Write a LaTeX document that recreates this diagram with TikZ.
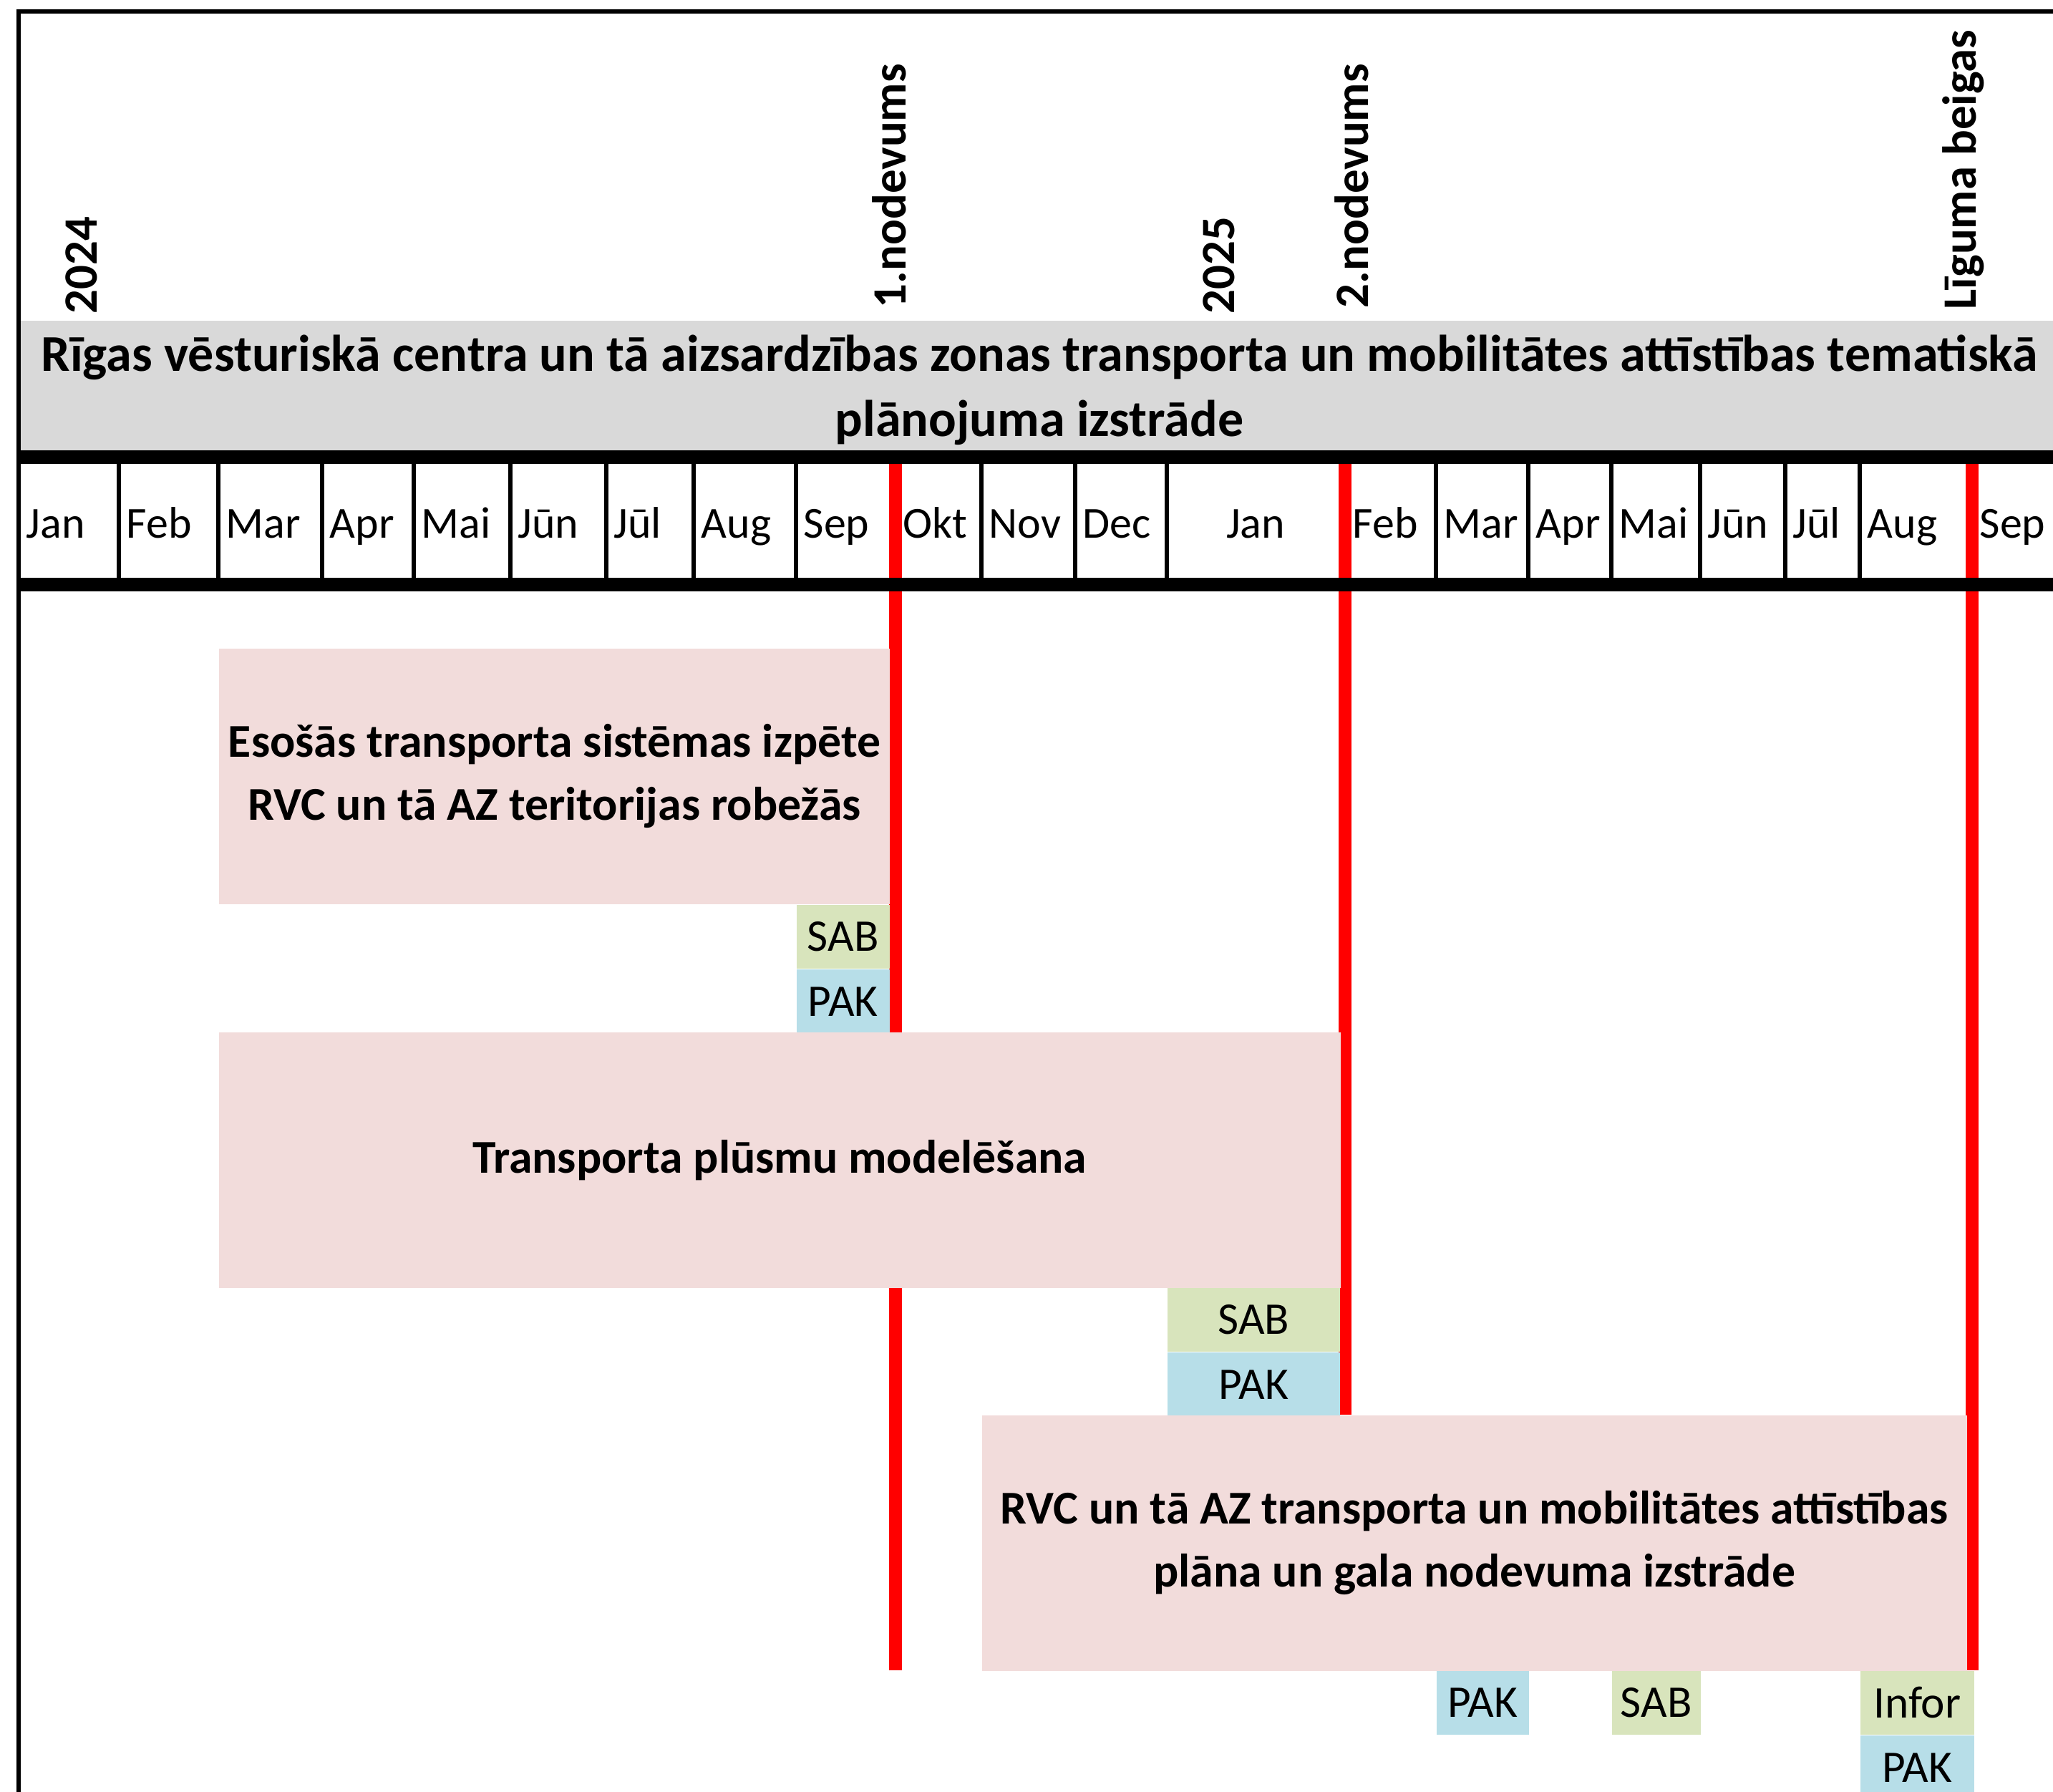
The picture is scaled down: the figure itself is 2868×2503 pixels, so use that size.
\documentclass[tikz,border=0pt]{standalone}
\usepackage{fontspec}
\setmainfont{Carlito}
\usetikzlibrary{positioning}
\definecolor{bandgray}{HTML}{D9D9D9}
\definecolor{taskpink}{HTML}{F2DCDB}
\definecolor{sabgreen}{HTML}{D8E4BC}
\definecolor{pakblue}{HTML}{B7DEE8}
\definecolor{msred}{HTML}{FF0000}
\tikzstyle{taskbox} = [fill=taskpink, anchor=north west, inner sep=0pt,
    align=center, minimum height=3.57cm, font=\fontsize{18.7}{25}\selectfont\bfseries]
\tikzstyle{sabbox} = [fill=sabgreen, anchor=north west, inner sep=0pt,
    minimum height=0.89cm, font=\fontsize{18}{22}\selectfont]
\tikzstyle{pakbox} = [sabbox, fill=pakblue]
\tikzstyle{monthlabel} = [anchor=base west, inner sep=0pt, font=\fontsize{17.6}{22}\selectfont]
\tikzstyle{milestonelabel} = [rotate=90, anchor=base west, inner sep=0pt,
    font=\fontsize{19}{23}\selectfont\bfseries]
\tikzstyle{milestone} = [draw=msred, line width=0.175cm]
\tikzstyle{gridline} = [draw=black, line width=0.06cm]
\tikzstyle{thickline} = [draw=black, line width=0.19cm]

\begin{document}
\begin{tikzpicture}[x=0.01cm, y=-0.01cm]
    \useasboundingbox (0,0) rectangle (2868,2503);
    % title band
    \fill[bandgray] (26,448) rectangle (2868,629);
    \node[font=\fontsize{20.5}{26}\selectfont\bfseries, align=center] (title) at (1452,545)
        {Rīgas vēsturiskā centra un tā aizsardzības zonas transporta un mobilitātes attīstības tematiskā\\
         plānojuma izstrāde};

    % milestones
    \coordinate (ms1top) at (1251,648);
    \coordinate (ms1end) at (1251,2333);
    \coordinate (ms2top) at (1879,648);
    \coordinate (ms2end) at (1879,1976);
    \coordinate (ms3top) at (2755,648);
    \coordinate (ms3end) at (2755,2333);
    \draw[milestone] (ms1top) -- (ms1end);
    \draw[milestone] (ms2top) -- (ms2end);
    \draw[milestone] (ms3top) -- (ms3end);

    % tasks
    \node[taskbox, minimum width=9.37cm] (izpete) at (305,905)
        {Esošās transporta sistēmas izpēte\\RVC un tā AZ teritorijas robežās};
    \node[sabbox, minimum width=1.30cm] (sab1) at (1112,1263) {SAB};
    \node[pakbox, minimum width=1.30cm, below=0pt of sab1] (pak1) {PAK};

    \node[taskbox, minimum width=15.66cm] (modelesana) at (305,1441)
        {Transporta plūsmu modelēšana};
    \node[sabbox, minimum width=2.41cm] (sab2) at (1630,1798) {SAB};
    \node[pakbox, minimum width=2.41cm, below=0pt of sab2] (pak2) {PAK};

    \node[taskbox, minimum width=13.75cm] (plans) at (1371,1976)
        {RVC un tā AZ transporta un mobilitātes attīstības\\plāna un gala nodevuma izstrāde};
    \node[pakbox, minimum width=1.29cm] (pak3) at (2006,2333) {PAK};
    \node[sabbox, minimum width=1.24cm] (sab3) at (2251,2333) {SAB};
    \node[sabbox, minimum width=1.59cm] (infor) at (2598,2333) {Infor};
    \node[pakbox, minimum width=1.59cm, below=0pt of infor] (pak4) {PAK};

    % grid
    \draw[gridline] (2868,16) -- (26,16) -- (26,2503);
    \draw[thickline] (26,638.5) -- (2868,638.5);
    \draw[thickline] (26,816.5) -- (2868,816.5);
    \foreach \x in {166,305,450,578,713,847,969,1112,1371,1502,1630,2006,2135,2251,2375,2494,2598}
        \draw[gridline] (\x,648) -- (\x,807);

    % months
    \foreach \x/\m [count=\i] in {26/Jan,166/Feb,305/Mar,450/Apr,578/Mai,713/Jūn,847/Jūl,969/Aug,1112/Sep,
        1251/Okt,1371/Nov,1502/Dec,1879/Feb,2006/Mar,2135/Apr,2251/Mai,2375/Jūn,2494/Jūl,2598/Aug,2755/Sep}
        \node[monthlabel] (m\i) at (\x+10,751) {\m};
    \node[monthlabel, anchor=base] (jan25) at (1754,751) {Jan};

    % years and milestones
    \node[milestonelabel] (y2024) at (135,439) {2024};
    \node[milestonelabel] (nod1) at (1265,431) {1.nodevums};
    \node[milestonelabel] (y2025) at (1724,439) {2025};
    \node[milestonelabel] (nod2) at (1911,431) {2.nodevums};
    \node[milestonelabel] (beigas) at (2760,433) {Līguma beigas};
\end{tikzpicture}
\end{document}
